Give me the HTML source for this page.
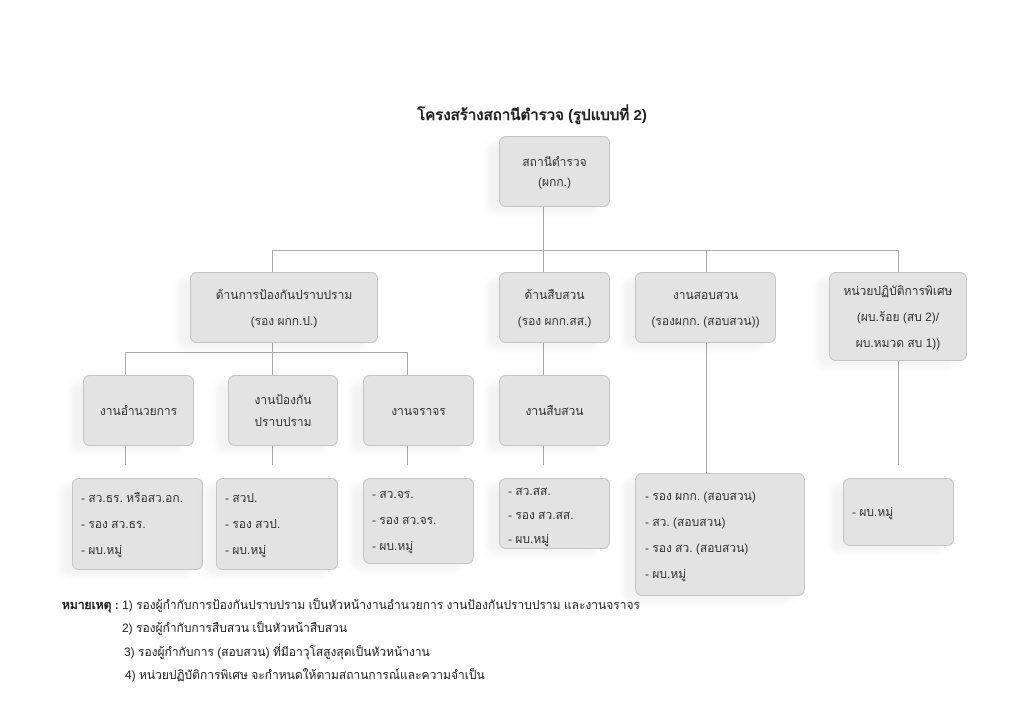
<!DOCTYPE html>
<html><head><meta charset="utf-8"><style>
body{margin:0;width:1024px;height:725px;background:#fff;position:relative;overflow:hidden;font-family:"Liberation Sans","Noto Sans CJK SC",sans-serif;color:#333;}
.b{position:absolute;box-sizing:border-box;background:#e3e3e3;border:1px solid #c4c4c4;border-radius:7px;box-shadow:-12px 6px 8px rgba(0,0,0,0.05);font-size:12px;display:flex;flex-direction:column;justify-content:center;align-items:center;text-align:center;line-height:26px;}
.l{align-items:flex-start;text-align:left;padding-left:8px;}
.h{position:absolute;height:1px;background:#aaa;}
.v{position:absolute;width:1px;background:#aaa;}
.t{position:absolute;font-size:12px;white-space:nowrap;color:#222;}
</style></head><body>
<div class="t" style="left:0;width:1064px;text-align:center;top:103px;font-size:15px;font-weight:bold;">โครงสร้างสถานีตำรวจ (รูปแบบที่ 2)</div>

<div class="v" style="left:543px;top:207px;height:65px"></div>
<div class="h" style="left:272px;top:250px;width:627px"></div>
<div class="v" style="left:272px;top:250px;height:22px"></div>
<div class="v" style="left:706px;top:250px;height:22px"></div>
<div class="v" style="left:898px;top:250px;height:22px"></div>
<div class="v" style="left:272px;top:343px;height:9px"></div>
<div class="h" style="left:125px;top:352px;width:283px"></div>
<div class="v" style="left:125px;top:352px;height:23px"></div>
<div class="v" style="left:407px;top:352px;height:23px"></div>
<div class="v" style="left:272px;top:352px;height:23px"></div>
<div class="v" style="left:543px;top:343px;height:32px"></div>
<div class="v" style="left:125px;top:446px;height:19px"></div>
<div class="v" style="left:272px;top:446px;height:19px"></div>
<div class="v" style="left:407px;top:446px;height:19px"></div>
<div class="v" style="left:543px;top:446px;height:19px"></div>
<div class="v" style="left:706px;top:343px;height:130px"></div>
<div class="v" style="left:898px;top:361px;height:104px"></div>

<div class="b" style="left:499px;top:136px;width:111px;height:71px;line-height:20px">สถานีตำรวจ<br>(ผกก.)</div>
<div class="b" style="left:190px;top:272px;width:188px;height:71px">ด้านการป้องกันปราบปราม<br>(รอง ผกก.ป.)</div>
<div class="b" style="left:499px;top:272px;width:111px;height:71px">ด้านสืบสวน<br>(รอง ผกก.สส.)</div>
<div class="b" style="left:635px;top:272px;width:141px;height:71px">งานสอบสวน<br>(รองผกก. (สอบสวน))</div>
<div class="b" style="left:829px;top:272px;width:138px;height:89px">หน่วยปฏิบัติการพิเศษ<br>(ผบ.ร้อย (สบ 2)/<br>ผบ.หมวด สบ 1))</div>

<div class="b" style="left:83px;top:375px;width:111px;height:71px">งานอำนวยการ</div>
<div class="b" style="left:228px;top:375px;width:110px;height:71px;line-height:22px">งานป้องกัน<br>ปราบปราม</div>
<div class="b" style="left:363px;top:375px;width:111px;height:71px">งานจราจร</div>
<div class="b" style="left:499px;top:375px;width:111px;height:71px">งานสืบสวน</div>

<div class="b l" style="left:72px;top:478px;width:131px;height:92px">- สว.ธร. หรือสว.อก.<br>- รอง สว.ธร.<br>- ผบ.หมู่</div>
<div class="b l" style="left:216px;top:478px;width:122px;height:92px">- สวป.<br>- รอง สวป.<br>- ผบ.หมู่</div>
<div class="b l" style="left:363px;top:478px;width:111px;height:86px;justify-content:flex-start;padding-top:2px">- สว.จร.<br>- รอง สว.จร.<br>- ผบ.หมู่</div>
<div class="b l" style="left:499px;top:478px;width:111px;height:71px;line-height:24px;justify-content:flex-start;padding-top:0">- สว.สส.<br>- รอง สว.สส.<br>- ผบ.หมู่</div>
<div class="b l" style="left:635px;top:473px;width:170px;height:123px;padding-left:9px">- รอง ผกก. (สอบสวน)<br>- สว. (สอบสวน)<br>- รอง สว. (สอบสวน)<br>- ผบ.หมู่</div>
<div class="b l" style="left:843px;top:478px;width:111px;height:68px">- ผบ.หมู่</div>

<div class="t" style="left:62px;top:596px"><b>หมายเหตุ :</b> 1) รองผู้กำกับการป้องกันปราบปราม เป็นหัวหน้างานอำนวยการ งานป้องกันปราบปราม และงานจราจร</div>
<div class="t" style="left:122px;top:619px">2) รองผู้กำกับการสืบสวน เป็นหัวหน้าสืบสวน</div>
<div class="t" style="left:124px;top:643px">3) รองผู้กำกับการ (สอบสวน) ที่มีอาวุโสสูงสุดเป็นหัวหน้างาน</div>
<div class="t" style="left:125px;top:666px">4) หน่วยปฏิบัติการพิเศษ จะกำหนดให้ตามสถานการณ์และความจำเป็น</div>
</body></html>
